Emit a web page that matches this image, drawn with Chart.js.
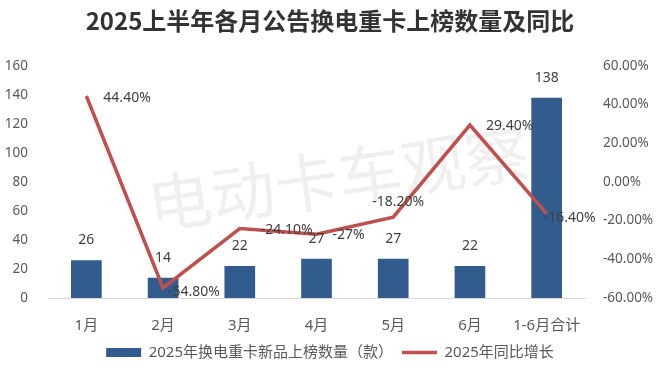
<!DOCTYPE html>
<html>
<head>
<meta charset="utf-8">
<script src="https://cdn.jsdelivr.net/npm/chart.js@4"></script>
<style>
  html, body { margin: 0; padding: 0; background: #ffffff; }
  #wrap { width: 660px; height: 377px; }
</style>
</head>
<body>
<div id="wrap"><canvas id="c" width="660" height="377"></canvas></div>
<script>
// ---- data ----
const categories = ['1月', '2月', '3月', '4月', '5月', '6月', '1-6月合计'];
const barValues = [26, 14, 22, 27, 27, 22, 138];
const growthValues = [44.4, -54.8, -24.1, -27, -18.2, 29.4, -16.4];
const growthLabels = ['44.40%', '-54.80%', '-24.10%', '-27%', '-18.20%', '29.40%', '-16.40%'];
const barSeriesName = '2025年换电重卡新品上榜数量（款）';
const lineSeriesName = '2025年同比增长';
const titleText = '2025上半年各月公告换电重卡上榜数量及同比';
const watermarkText = '电动卡车观察';

// ---- styles ----
const BAR_COLOR = '#335C8E';
const LINE_COLOR = '#C0504D';
const TICK_COLOR = '#595959';
const LABEL_COLOR = '#404040';
const FONT = "'Noto Sans', 'Noto Sans CJK SC', sans-serif";
// label offsets (dx, dy) from each line point, text left-aligned
const lineLabelOffsets = [[17, 2], [5, 4], [21, 1], [16, 1], [-21, -15], [16, 1], [-3, 4]];

Chart.defaults.font.family = FONT;

const watermarkPlugin = {
  id: 'watermark',
  beforeDatasetsDraw(chart) {
    const ctx = chart.ctx;
    ctx.save();
    ctx.translate(338, 178);
    ctx.rotate(-8.1 * Math.PI / 180);
    ctx.font = "64px 'Noto Sans CJK SC'";
    ctx.fillStyle = 'rgba(150, 120, 120, 0.13)';
    ctx.textAlign = 'center';
    ctx.textBaseline = 'middle';
    ctx.fillText(watermarkText, 0, 0);
    ctx.restore();
  }
};

const labelPlugin = {
  id: 'valueLabels',
  afterDatasetsDraw(chart) {
    const ctx = chart.ctx;
    ctx.save();
    ctx.font = "14px " + FONT;
    ctx.fillStyle = LABEL_COLOR;
    ctx.textBaseline = 'middle';
    // bar labels
    const barMeta = chart.getDatasetMeta(0);
    ctx.textAlign = 'center';
    barMeta.data.forEach((el, i) => {
      ctx.fillText(String(barValues[i]), el.x, el.y - 20);
    });
    // line labels
    const lineMeta = chart.getDatasetMeta(1);
    ctx.textAlign = 'left';
    lineMeta.data.forEach((el, i) => {
      const off = lineLabelOffsets[i];
      ctx.fillText(growthLabels[i], el.x + off[0], el.y + off[1]);
    });
    ctx.restore();
  }
};

new Chart(document.getElementById('c'), {
  data: {
    labels: categories,
    datasets: [
      {
        type: 'bar',
        label: barSeriesName,
        data: barValues,
        backgroundColor: BAR_COLOR,
        borderColor: BAR_COLOR,
        borderWidth: 0,
        yAxisID: 'y',
        order: 2,
        barPercentage: 0.4,
        categoryPercentage: 1.0
      },
      {
        type: 'line',
        label: lineSeriesName,
        data: growthValues,
        borderColor: LINE_COLOR,
        backgroundColor: LINE_COLOR,
        borderWidth: 3.5,
        pointRadius: 0,
        tension: 0,
        yAxisID: 'y1',
        order: 1
      }
    ]
  },
  options: {
    responsive: false,
    animation: false,
    devicePixelRatio: 1,
    layout: { padding: { left: 0, right: 0, top: 0, bottom: 7 } },
    plugins: {
      tooltip: { enabled: false },
      title: {
        display: true,
        text: titleText,
        color: '#333333',
        font: { family: "'Noto Sans CJK SC', sans-serif", size: 24, weight: 'bold', lineHeight: 1.2 },
        padding: { top: 6, bottom: 31 }
      },
      legend: {
        display: true,
        position: 'bottom',
        labels: {
          color: TICK_COLOR,
          font: { size: 15, family: FONT },
          usePointStyle: true,
          pointStyleWidth: 35,
          boxHeight: 9,
          padding: 9,
          generateLabels(chart) {
            return [
              { text: barSeriesName, fillStyle: BAR_COLOR, strokeStyle: BAR_COLOR, lineWidth: 0, pointStyle: 'rect', datasetIndex: 0, fontColor: TICK_COLOR },
              { text: lineSeriesName, fillStyle: LINE_COLOR, strokeStyle: LINE_COLOR, lineWidth: 3.5, pointStyle: 'line', datasetIndex: 1, fontColor: TICK_COLOR }
            ];
          }
        }
      }
    },
    scales: {
      x: {
        grid: { display: false },
        border: { display: true, color: '#D9D9D9', width: 1 },
        ticks: { color: TICK_COLOR, font: { size: 15 }, padding: 11, maxRotation: 0 },
        afterFit(scale) { scale.height = 38; }
      },
      y: {
        position: 'left',
        min: 0, max: 160,
        grid: { display: false },
        border: { display: false },
        ticks: { stepSize: 20, color: TICK_COLOR, font: { size: 13.5 }, padding: 12 },
        afterFit(scale) { scale.width = 48; }
      },
      y1: {
        position: 'right',
        min: -60, max: 60,
        grid: { display: false },
        border: { display: false },
        ticks: { stepSize: 20, color: TICK_COLOR, font: { size: 13.5 }, padding: 10,
          callback: (v) => v.toFixed(2) + '%' },
        afterFit(scale) { scale.width = 75; }
      }
    }
  },
  plugins: [watermarkPlugin, labelPlugin]
});
</script>
</body>
</html>
